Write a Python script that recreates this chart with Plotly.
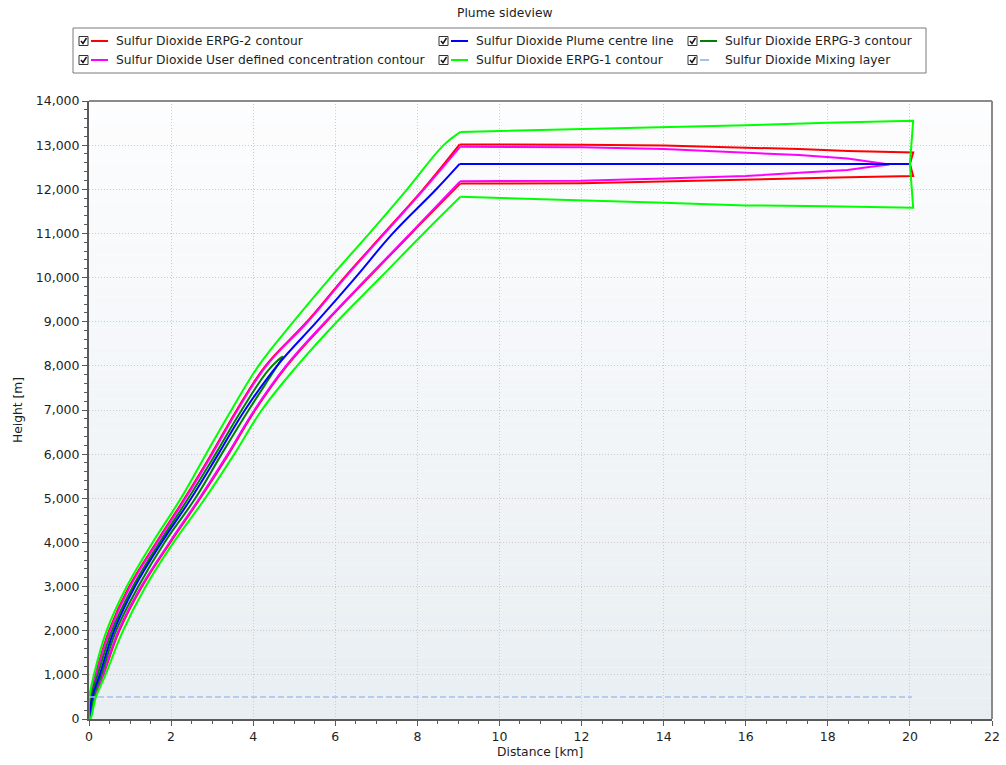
import plotly.graph_objects as go

# ---------------- data (km, m) ----------------
centre_x = [0.0, 0.08, 0.26, 0.61, 1.12, 1.77, 2.49, 3.15, 3.80, 4.58, 5.55, 6.49, 7.40, 8.46, 9.03, 20.0]
centre_y = [0, 500, 1000, 2000, 3000, 4000, 5000, 6000, 7000, 8000, 9000, 10000, 11000, 12000, 12575, 12575]

erpg1_x = [0.0, 0.01, 0.12, 0.43, 0.92, 1.55, 2.24, 2.85, 3.47, 4.13, 4.98, 5.88, 6.83, 7.75, 8.64, 9.05,
           10.5, 12.0, 14.0, 16.0, 18.0, 20.08, 20.0, 20.08,
           18.0, 17.3, 16.0, 14.0, 12.0, 10.5, 9.05,
           8.15, 7.10, 6.04, 5.07, 4.21, 3.54, 2.83, 2.06, 1.38, 0.83, 0.40, 0.17, 0.03, 0.0]
erpg1_y = [0, 500, 1000, 2000, 3000, 4000, 5000, 6000, 7000, 8000, 9000, 10000, 11000, 12000, 13000, 13300,
           13330, 13360, 13400, 13450, 13510, 13551, 12575, 11581,
           11615, 11620, 11635, 11694, 11745, 11790, 11830,
           11000, 10000, 9000, 8000, 7000, 6000, 5000, 4000, 3000, 2000, 1000, 500, 0, 0]

erpg2_x = [0.0, 0.03, 0.16, 0.49, 0.98, 1.64, 2.33, 2.98, 3.60, 4.30, 5.31, 6.22, 7.18, 8.14, 9.03,
           10.0, 12.0, 14.0, 16.0, 17.3, 18.5, 20.08, 20.0, 20.08,
           18.5, 17.3, 16.0, 14.0, 12.0, 10.0, 9.05,
           7.85, 6.81, 5.78, 4.82, 4.05, 3.40, 2.71, 1.98, 1.29, 0.74, 0.35, 0.14, 0.02, 0.0]
erpg2_y = [0, 500, 1000, 2000, 3000, 4000, 5000, 6000, 7000, 8000, 9000, 10000, 11000, 12000, 13017,
           13016, 13010, 12994, 12949, 12910, 12870, 12835, 12575, 12300,
           12270, 12246, 12208, 12170, 12135, 12133, 12133,
           11000, 10000, 9000, 8000, 7000, 6000, 5000, 4000, 3000, 2000, 1000, 500, 0, 0]

user_x = [0.0, 0.04, 0.17, 0.51, 1.00, 1.66, 2.35, 3.00, 3.62, 4.32, 5.33, 6.24, 7.20, 8.16, 9.04,
          10.0, 12.0, 14.0, 16.0, 17.3, 18.48, 19.05, 19.5,
          19.05, 18.48, 17.3, 16.0, 14.0, 12.0, 10.0, 9.04,
          7.83, 6.79, 5.76, 4.80, 4.03, 3.38, 2.69, 1.96, 1.27, 0.72, 0.34, 0.13, 0.02, 0.0]
user_y = [0, 500, 1000, 2000, 3000, 4000, 5000, 6000, 7000, 8000, 9000, 10000, 11000, 12000, 12962,
          12960, 12950, 12910, 12827, 12775, 12699, 12623, 12564,
          12510, 12435, 12374, 12299, 12246, 12193, 12190, 12180,
          11000, 10000, 9000, 8000, 7000, 6000, 5000, 4000, 3000, 2000, 1000, 500, 0, 0]

erpg3_x = [0.0, 0.05, 0.21, 0.56, 1.07, 1.72, 2.42, 3.08, 3.72, 4.37, 4.72,
           4.52, 3.89, 3.23, 2.59, 1.84, 1.20, 0.66, 0.30, 0.11, 0.02, 0.0]
erpg3_y = [0, 500, 1000, 2000, 3000, 4000, 5000, 6000, 7000, 7905, 8207,
           7905, 7000, 6000, 5000, 4000, 3000, 2000, 1000, 500, 0, 0]

mixing_x = [0.0, 20.05]
mixing_y = [500, 500]

x_ticks = [0, 2, 4, 6, 8, 10, 12, 14, 16, 18, 20, 22]
y_ticks = [0, 1000, 2000, 3000, 4000, 5000, 6000, 7000, 8000, 9000, 10000, 11000, 12000, 13000, 14000]
y_tick_text = ["0", "1,000", "2,000", "3,000", "4,000", "5,000", "6,000", "7,000", "8,000", "9,000",
               "10,000", "11,000", "12,000", "13,000", "14,000"]

# drawing order
series = [
    ("Sulfur Dioxide ERPG-2 contour", erpg2_x, erpg2_y, "#ff0000"),
    ("Sulfur Dioxide User defined concentration contour", user_x, user_y, "#ff00ff"),
    ("Sulfur Dioxide ERPG-3 contour", erpg3_x, erpg3_y, "#008000"),
    ("Sulfur Dioxide Plume centre line", centre_x, centre_y, "#0000ff"),
    ("Sulfur Dioxide ERPG-1 contour", erpg1_x, erpg1_y, "#00ff00"),
]
MIX_COLOR = "#9fc3ef"

# legend layout (row-major, 3 columns)
legend_order = [
    ("Sulfur Dioxide ERPG-2 contour", "#ff0000", None),
    ("Sulfur Dioxide Plume centre line", "#0000ff", None),
    ("Sulfur Dioxide ERPG-3 contour", "#008000", None),
    ("Sulfur Dioxide User defined concentration contour", "#ff00ff", None),
    ("Sulfur Dioxide ERPG-1 contour", "#00ff00", None),
    ("Sulfur Dioxide Mixing layer", MIX_COLOR, "dash"),
]

W, H = 1006, 765
L, R, T, B = 89, 14, 101, 46
PW, PH = W - L - R, H - T - B
FONT = "DejaVu Sans"
TXT = "#1e1e1e"


def px(x):
    return (x - L) / PW


def py(y):
    return (H - B - y) / PH


fig = go.Figure()


def add_part(name, xs, ys, col, smooth):
    if len(xs) < 2:
        return
    fig.add_trace(go.Scatter(x=xs, y=ys, mode="lines", name=name, showlegend=False, hoverinfo="skip",
                             line=dict(color=col, width=2,
                                       shape="spline" if smooth else "linear",
                                       smoothing=1.1 if smooth else None)))


for name, xs, ys, col in series:
    far = [i for i, v in enumerate(xs) if v > 9.0]
    if not far:
        add_part(name, xs, ys, col, True)
        continue
    i0, i1 = far[0], far[-1]
    add_part(name, xs[:i0 + 1], ys[:i0 + 1], col, True)          # rising (upper) side
    add_part(name, xs[i0:i1 + 1], ys[i0:i1 + 1], col, False)     # plateau
    add_part(name, xs[i1:], ys[i1:], col, True)                   # rising (lower) side

fig.add_trace(go.Scatter(x=mixing_x, y=mixing_y, mode="lines", name="Sulfur Dioxide Mixing layer",
                         showlegend=False, hoverinfo="skip",
                         line=dict(color=MIX_COLOR, width=1.5, dash="6px,3px")))

shapes = []
# gradient plot background
N = 60
top = (253, 253, 254)
bot = (232, 238, 242)
for i in range(N):
    t = (i + 0.5) / N
    c = tuple(round(bot[k] + (top[k] - bot[k]) * t) for k in range(3))
    shapes.append(dict(type="rect", xref="paper", yref="paper", x0=0, x1=1, y0=i / N, y1=(i + 1) / N,
                       fillcolor="rgb(%d,%d,%d)" % c, line=dict(width=0), layer="below"))
# top / right border
shapes.append(dict(type="line", xref="paper", yref="paper", x0=0, x1=1, y0=1, y1=1,
                   line=dict(color="#8a8a8a", width=2), layer="above"))
shapes.append(dict(type="line", xref="paper", yref="paper", x0=1, x1=1, y0=0, y1=1,
                   line=dict(color="#8a8a8a", width=2), layer="above"))

annotations = []
# legend box
shapes.append(dict(type="rect", xref="paper", yref="paper", x0=px(73), x1=px(926), y0=py(73), y1=py(28),
                   line=dict(color="#7a7a7a", width=1), fillcolor="white"))
col_x = [79, 439, 688]
row_y = [41, 60]
for i, (name, col, dash) in enumerate(legend_order):
    cx = col_x[i % 3]
    ry = row_y[i // 3]
    # checkbox
    shapes.append(dict(type="rect", xref="paper", yref="paper", x0=px(cx), x1=px(cx + 9),
                       y0=py(ry + 4.5), y1=py(ry - 4.5), line=dict(color="#333333", width=1),
                       fillcolor="white"))
    shapes.append(dict(type="path", xref="paper", yref="paper",
                       path="M %f %f L %f %f L %f %f" % (px(cx + 2), py(ry), px(cx + 4), py(ry + 2.5),
                                                         px(cx + 7.5), py(ry - 3)),
                       line=dict(color="#111111", width=1.5)))
    # line sample
    shapes.append(dict(type="line", xref="paper", yref="paper", x0=px(cx + 12), x1=px(cx + 29),
                       y0=py(ry), y1=py(ry), line=dict(color=col, width=2, dash=dash)))
    annotations.append(dict(text=name, xref="paper", yref="paper", x=px(cx + 35), y=py(ry),
                            xanchor="left", yanchor="middle", showarrow=False,
                            font=dict(family=FONT, size=12.3, color=TXT)))

annotations.append(dict(text="Plume sideview", xref="paper", yref="paper", x=px(505), y=py(13),
                        xanchor="center", yanchor="middle", showarrow=False,
                        font=dict(family=FONT, size=12.3, color=TXT)))
annotations.append(dict(text="Height [m]", xref="paper", yref="paper", x=px(18), y=py(410),
                        xanchor="center", yanchor="middle", showarrow=False, textangle=-90,
                        font=dict(family=FONT, size=12.3, color=TXT)))
annotations.append(dict(text="Distance [km]", xref="paper", yref="paper", x=px(540), y=py(752),
                        xanchor="center", yanchor="middle", showarrow=False,
                        font=dict(family=FONT, size=12.3, color=TXT)))

axis_common = dict(showline=True, linecolor="#5a5a5a", linewidth=2, ticks="outside", ticklen=5,
                   tickcolor="#5a5a5a", tickwidth=1, showgrid=True, gridcolor="#cccccc",
                   griddash="1px,2px", gridwidth=1, zeroline=False, automargin=False,
                   tickfont=dict(family=FONT, size=12.5, color=TXT))

fig.update_layout(
    width=W, height=H, autosize=False,
    margin=dict(l=L, r=R, t=T, b=B, pad=0, autoexpand=False),
    paper_bgcolor="white", plot_bgcolor="white",
    showlegend=False, hovermode=False,
    shapes=shapes, annotations=annotations,
    xaxis=dict(range=[0, 22], tickvals=x_ticks, ticktext=[str(v) for v in x_ticks],
               minor=dict(ticks="outside", ticklen=3, dtick=0.5, tickcolor="#5a5a5a", showgrid=False),
               **axis_common),
    yaxis=dict(range=[0, 14000], tickvals=y_ticks, ticktext=y_tick_text,
               minor=dict(ticks="outside", ticklen=3, dtick=200, tickcolor="#5a5a5a", showgrid=False),
               **axis_common),
)

fig.write_html(
    "out.html",
    config={"displayModeBar": False},
    post_script=("document.body.style.margin='0';"
                 "document.body.style.overflow='hidden';"
                 "document.documentElement.style.overflow='hidden';"),
)
